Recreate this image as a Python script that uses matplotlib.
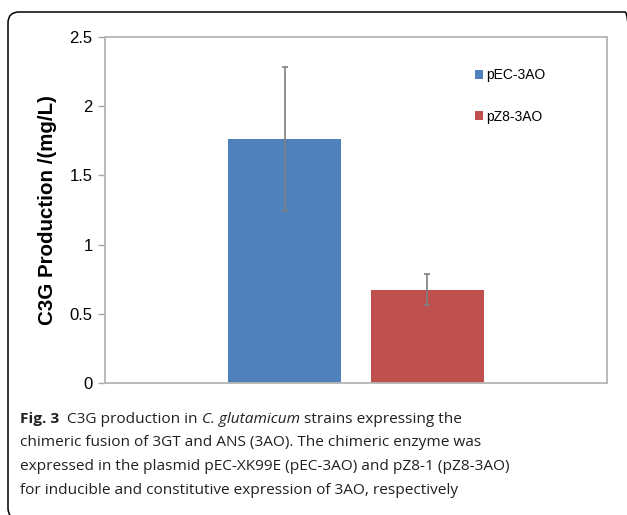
import matplotlib
matplotlib.use('Agg')
import matplotlib.pyplot as plt
from matplotlib.patches import FancyBboxPatch
from matplotlib.transforms import IdentityTransform
import numpy as np

# data
strains = ['pEC-3AO', 'pZ8-3AO']
c3g = [1.765, 0.675]
c3g_err = [0.52, 0.11]
colors = ['#4F81BD', '#C0504D']
yticks = [0, 0.5, 1, 1.5, 2, 2.5]
ytick_labels = ['0', '0.5', '1', '1.5', '2', '2.5']

caption_lines = [
    [('Fig. 3', 'bold', 'normal'), ('  C3G production in ', 'normal', 'normal'),
     ('C. glutamicum', 'normal', 'italic'), (' strains expressing the', 'normal', 'normal')],
    [('chimeric fusion of 3GT and ANS (3AO). The chimeric enzyme was', 'normal', 'normal')],
    [('expressed in the plasmid pEC-XK99E (pEC-3AO) and pZ8-1 (pZ8-3AO)', 'normal', 'normal')],
    [('for inducible and constitutive expression of 3AO, respectively', 'normal', 'normal')],
]

W, H = 627, 515
fig = plt.figure(figsize=(W / 100, H / 100), dpi=100)
plt.rcParams['font.family'] = ['Liberation Sans', 'DejaVu Sans']

# rounded frame around figure + caption (cropped at right and bottom)
frame = FancyBboxPatch((8, -4), 628, H - 12 + 4, boxstyle='round,pad=0,rounding_size=11',
                       transform=IdentityTransform(), fill=False, ec='black', lw=1.1)
fig.patches.append(frame)

ax = fig.add_axes([105 / W, (H - 383) / H, 502 / W, 346 / H])
xpos = np.array([-0.142, 0.142])
bars = ax.bar(xpos, c3g, width=0.225, color=colors, label=strains, zorder=2)
ax.errorbar(xpos, c3g, yerr=c3g_err, fmt='none', ecolor='#7F7F7F', elinewidth=1.2,
            capsize=2.5, capthick=1.2, zorder=3)

ax.set_xlim(-0.5, 0.5)
ax.set_ylim(0, 2.5)
ax.set_xticks([])
ax.set_yticks(yticks)
ax.set_yticklabels(ytick_labels, fontsize=12)
ax.tick_params(axis='y', length=5, width=1, color='#A6A6A6', pad=4)
for s in ax.spines.values():
    s.set_color('#B4B4B4')
    s.set_linewidth(1.3)
ax.set_ylabel('C3G Production /(mg/L)', fontsize=14.8, fontweight='bold', labelpad=9)

ax.legend(handles=list(bars), labels=strains, loc='upper left',
          bbox_to_anchor=((475 - 105) / 502, (383 - 68) / 346), frameon=False,
          fontsize=10, borderpad=0, borderaxespad=0, handlelength=0.6, handleheight=0.6,
          handletextpad=0.2, labelspacing=2.0)

# caption, written piece by piece so bold / italic runs line up
fig.canvas.draw()
renderer = fig.canvas.get_renderer()
cap_font = ['Open Sans', 'DejaVu Sans']
cap_size = 11.1
baseline = H - 423
for line in caption_lines:
    x = 20
    for txt, weight, style in line:
        t = fig.text(x, baseline, txt, transform=IdentityTransform(), family=cap_font,
                     fontsize=cap_size, fontweight=weight, fontstyle=style,
                     va='baseline', ha='left', color='#231F20')
        x = t.get_window_extent(renderer).x1
    baseline -= 23.5

fig.savefig('out.png', dpi=100)
